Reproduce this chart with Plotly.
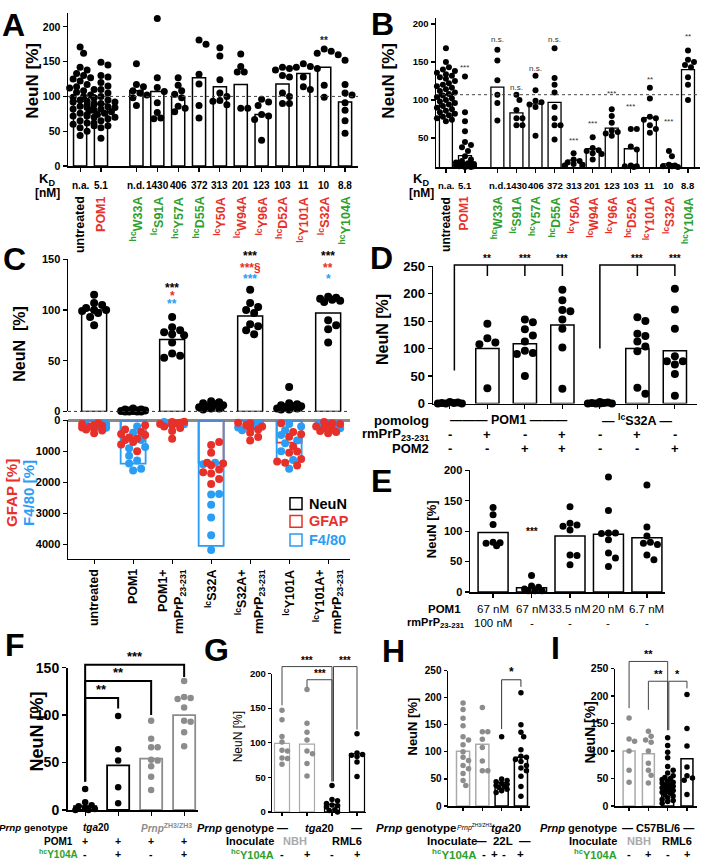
import math
import plotly.graph_objects as go

W, H = 703, 868
FONT = "Liberation Sans, Arial, Helvetica, sans-serif"
BLK = "#000000"
RED = "#e8302a"
BLUE = "#2a9df4"
GREEN = "#2ea02e"
GRAY = "#8c8c8c"
NBH = "#aaaaaa"

# ===================== DATA =====================
# Panels A and B (same categories)
ab_labels = ["untreated", "POM1", "<sup>hc</sup>W33A", "<sup>lc</sup>S91A", "<sup>hc</sup>Y57A",
             "<sup>hc</sup>D55A", "<sup>lc</sup>Y50A", "<sup>lc</sup>W94A", "<sup>lc</sup>Y96A",
             "<sup>hc</sup>D52A", "<sup>lc</sup>Y101A", "<sup>lc</sup>S32A", "<sup>hc</sup>Y104A"]
ab_label_colors = [BLK, RED, GREEN, GREEN, GREEN, GREEN, RED, RED, RED, RED, RED, RED, GREEN]
kd_values = ["n.a.", "5.1", "n.d.", "1430", "406", "372", "313", "201", "123", "103", "11", "10", "8.8"]

a_bar = [93, 89, 108, 107, 100, 127, 114, 117, 74, 118, 133, 142, 92]
a_points = [
    [171, 162, 142, 138, 133, 130, 127, 125, 122, 120, 117, 114, 112, 110, 108, 106, 104, 102, 100, 99,
     98, 96, 95, 93, 92, 90, 88, 86, 84, 82, 80, 78, 76, 74, 72, 70, 68, 65, 62, 60, 58, 55, 50, 44],
    [149, 145, 130, 128, 120, 115, 110, 105, 100, 98, 95, 92, 90, 88, 87, 85, 84, 82, 80, 78, 76, 74,
     72, 70, 68, 65, 62, 58, 55, 40],
    [147, 117, 114, 108, 105, 102, 98, 87],
    [212, 127, 113, 107, 91, 77, 69, 68],
    [127, 116, 108, 103, 98, 86, 83, 78],
    [181, 175, 132, 118, 87, 69],
    [170, 158, 124, 105, 100, 94, 93, 88],
    [161, 143, 135, 135, 83, 83],
    [96, 92, 87, 74, 72, 67, 37],
    [142, 140, 138, 130, 128, 105, 100, 90, 90],
    [147, 143, 142, 140, 128, 114, 110],
    [168, 165, 162, 160, 116, 99],
    [152, 117, 105, 102, 91, 80, 65, 47],
]
a_sig = ["", "", "", "", "", "", "", "", "", "", "", "**", ""]

b_bar = [107, 27, 117, 83, 95, 97, 21, 36, 63, 36, 77, 16, 140]
b_points = [
    [168, 150, 143, 140, 138, 136, 134, 132, 130, 128, 125, 122, 120, 118, 116, 114, 112, 110, 108, 106,
     104, 102, 100, 98, 96, 94, 92, 90, 88, 86, 84, 82, 80, 78, 76, 74, 72],
    [131, 84, 72, 59, 45, 41, 38, 33, 26, 22, 20, 18, 17, 16, 16, 15, 15, 14, 14, 13, 13, 13, 12, 12],
    [166, 152, 126, 107, 96, 73],
    [107, 100, 87, 76, 76, 67, 67],
    [132, 113, 99, 97, 94, 91, 53],
    [168, 129, 120, 110, 91, 76, 67, 67, 48],
    [30, 22, 20, 18, 16, 15, 14],
    [51, 37, 34, 33, 30, 29, 22],
    [88, 79, 70, 60, 58, 56, 53],
    [62, 62, 39, 35, 14, 13, 12, 13],
    [116, 102, 78, 76, 74, 67, 62, 57],
    [33, 26, 15, 14, 13, 13, 12],
    [165, 153, 150, 146, 143, 130, 120, 100],
]
b_sig = ["", "***", "n.s.", "n.s.", "n.s.", "n.s.", "***", "***", "***", "***", "**", "***", "**"]

# Panel C
c_labels = ["untreated", "POM1", "POM1+<br>rmPrP<sub>23-231</sub>", "<sup>lc</sup>S32A",
            "<sup>lc</sup>S32A+<br>rmPrP<sub>23-231</sub>", "<sup>lc</sup>Y101A",
            "<sup>lc</sup>Y101A+<br>rmPrP<sub>23-231</sub>"]
c_neun_bar = [100, 1, 71, 5, 94, 5, 97]
c_neun_points = [
    [115, 107, 105, 102, 100, 100, 99, 97, 93, 85],
    [3, 2, 2, 1, 1, 1, 0.5, 0.5, 0, 0, 0, 0],
    [93, 83, 80, 78, 76, 75, 68, 57, 55, 53],
    [10, 9, 8, 7, 6, 5, 4, 3, 2, 3],
    [120, 107, 103, 100, 97, 86, 84, 80, 76],
    [24, 8, 7, 6, 5, 5, 4, 3, 3, 2, 2],
    [113, 112, 111, 110, 109, 108, 90, 85, 81, 68],
]
c_gfap_bar = [190, 550, 120, 1370, 250, 720, 200]
c_f480_bar = [200, 1400, 100, 4060, 300, 1330, 180]
c_gfap_points = [
    [420, 330, 300, 260, 230, 200, 180, 150, 120, 100],
    [1000, 780, 700, 640, 600, 560, 480, 440, 380, 300, 160],
    [600, 350, 250, 200, 150, 120, 100, 80, 60, 50],
    [2060, 1900, 1720, 1680, 1590, 1450, 1400, 1370, 1050, 800, 700],
    [650, 540, 400, 300, 250, 200, 150, 100, 80],
    [1460, 1370, 1330, 1250, 1050, 1010, 850, 530, 450, 380, 100],
    [420, 380, 350, 300, 250, 200, 150, 120, 100, 60],
]
c_f480_points = [
    [240, 200, 160, 120],
    [1620, 1570, 1400, 1300, 1150, 900, 860, 640, 400, 200],
    [130, 90, 60],
    [4190, 3710, 3140, 2730, 2400, 2380, 1420, 1370],
    [320, 230, 160, 100],
    [1570, 1280, 1000, 740, 650, 480, 320, 200, 120],
    [260, 180, 130],
]
c_sig_black = ["", "", "***", "", "***", "", "***"]
c_sig_red = ["", "", "*", "", "***§", "", "**"]
c_sig_blue = ["", "", "**", "", "***", "", "*"]

# Panel D
d_bar = [1, 100, 109, 143, 1, 100, 96]
d_points = [
    [3, 2, 1, 1, 0, 0, 0],
    [145, 119, 111, 108, 28],
    [153, 148, 135, 124, 113, 96, 92, 90, 50],
    [207, 188, 170, 168, 153, 136, 102, 27],
    [3, 2, 1, 1, 0, 0, 0, 0],
    [157, 150, 127, 123, 113, 104, 95, 29, 18],
    [209, 171, 136, 86, 77, 77, 71, 54, 14],
]
d_rmprp = ["-", "+", "-", "+", "-", "+", "-"]
d_pom2 = ["-", "-", "+", "+", "-", "-", "+"]

# Panel E
e_pom1 = ["67 nM", "67 nM", "33.5 nM", "20 nM", "6.7 nM"]
e_rmprp = ["100 nM", "-", "-", "-", "-"]
e_bar = [98, 7, 92, 95, 89]
e_points = [
    [139, 127, 111, 82, 81, 80, 76],
    [27, 10, 8, 5, 2, 2, 2],
    [140, 113, 110, 108, 102, 61, 60, 45],
    [189, 134, 97, 97, 96, 86, 64, 56, 42],
    [176, 107, 92, 82, 80, 78, 61, 53],
]

# Panel F
f_bar = [4, 47, 54, 100]
f_points = [
    [22, 8, 5, 4, 2, 1, 0, 0],
    [99, 64, 52, 24, 7],
    [94, 75, 66, 66, 53, 52, 46, 35, 21],
    [136, 119, 118, 117, 108, 94, 93, 82, 67],
]
f_pom1 = ["+", "+", "+", "+"]
f_y104a = ["-", "+", "-", "+"]

# Panel G
g_bar = [99, 98, 11, 84]
g_points = [
    [147, 133, 109, 101, 89, 88, 78, 77, 69],
    [177, 128, 115, 104, 88, 84, 70, 52],
    [38, 18, 16, 12, 10, 9, 7, 3, 2, 0],
    [113, 85, 83, 82, 80, 72, 51],
]
g_y104a = ["-", "+", "-", "+"]

# Panel H
h_bar = [101, 114, 43, 90]
h_points = [
    [190, 178, 162, 148, 128, 122, 113, 100, 90, 84, 75, 69, 60, 47, 38],
    [182, 137, 137, 123, 108, 83, 65, 65],
    [128, 50, 47, 45, 42, 40, 38, 36, 34, 31, 28, 25],
    [209, 150, 136, 128, 104, 92, 90, 86, 82, 75, 70, 65, 55, 36, 18],
]
h_y104a = ["-", "+", "-", "+"]

# Panel I
i_bar = [100, 95, 40, 86]
i_points = [
    [160, 122, 118, 100, 65, 43],
    [136, 127, 120, 116, 100, 78, 65, 56, 42],
    [124, 110, 98, 88, 72, 65, 60, 55, 52, 50, 48, 45, 43, 42, 40, 38, 36, 35, 33, 32, 30, 28, 27,
     25, 23, 20, 18, 15, 12, 10, 8, 5],
    [203, 141, 109, 71, 55, 51, 47, 21],
]
i_y104a = ["-", "+", "-", "+"]

# ===================== GEOMETRY =====================
AB_POS = [0, 1] + [2.7 + i for i in range(11)]

AX = {
    1: dict(x=(68, 358), xr=(-0.58, 13.32), y=(161, 5), yr=(0, 220)),
    2: dict(x=(436, 700), xr=(-0.52, 13.33), y=(162, 10), yr=(12, 208)),
    3: dict(x=(68, 350), xr=(-0.67, 6.56), y=(411, 256), yr=(0, 150)),
    4: dict(x=(68, 350), xr=(-0.67, 6.56), y=(561, 420), yr=(4470, 0)),
    5: dict(x=(433, 697), xr=(-0.45, 6.59), y=(403, 263), yr=(0, 250)),
    6: dict(x=(470, 665), xr=(-0.6, 4.47), y=(595, 471), yr=(0, 200)),
    7: dict(x=(68, 198), xr=(-0.52, 3.42), y=(817, 672), yr=(0, 150)),
    8: dict(x=(272, 366), xr=(-0.4, 3.36), y=(819, 678), yr=(0, 200)),
    9: dict(x=(448, 530), xr=(-0.78, 3.47), y=(813, 675), yr=(0, 250)),
    10: dict(x=(615, 697), xr=(-0.73, 3.52), y=(813, 673), yr=(0, 250)),
}


def P(xp):
    return xp / W


def Q(yp):
    return 1 - yp / H


def kx(n):
    a = AX[n]
    return (a['x'][1] - a['x'][0]) / (a['xr'][1] - a['xr'][0])


def ky(n):
    a = AX[n]
    return abs(a['y'][0] - a['y'][1]) / abs(a['yr'][1] - a['yr'][0])


def X(n, v):
    a = AX[n]
    x0, x1 = a['x']
    r0, r1 = a['xr']
    return (x0 + (v - r0) / (r1 - r0) * (x1 - x0)) / W


def Y(n, v):
    a = AX[n]
    yb, yt = a['y']
    r0, r1 = a['yr']
    return 1 - (yb + (v - r0) / (r1 - r0) * (yt - yb)) / H


def swarm(vals, xc, n, d, maxhalf):
    sx, sy = kx(n), ky(n)
    step = d * 0.5
    cands = [0.0]
    k = 1
    while k * step <= maxhalf + 1e-6:
        cands += [k * step, -k * step]
        k += 1
    placed = []
    out = [0.0] * len(vals)
    for i in sorted(range(len(vals)), key=lambda j: -vals[j]):
        yv = vals[i] * sy
        best, bestd = 0.0, -1.0
        for c in cands:
            md = min((math.hypot(c - a, yv - b) for a, b in placed), default=1e9)
            if md >= d * 0.92:
                best = c
                break
            if md > bestd:
                best, bestd = c, md
        placed.append((best, yv))
        out[i] = xc + best / sx
    return out


def xref(n):
    return 'x' if n == 1 else f'x{n}'


def yref(n):
    return 'y' if n == 1 else f'y{n}'


fig = go.Figure()


def add_bars(n, xs, ys, width, color, lw=1.5):
    fig.add_trace(go.Bar(x=xs, y=ys, width=width,
                         marker=dict(color='rgba(255,255,255,0)', line=dict(color=color, width=lw)),
                         xaxis=xref(n), yaxis=yref(n), showlegend=False, hoverinfo='skip'))


def add_points(n, centers, groups, size, colors, maxhalf):
    for i, (xc, vals) in enumerate(zip(centers, groups)):
        col = colors[i] if isinstance(colors, list) else colors
        xs = swarm(vals, xc, n, size, maxhalf)
        fig.add_trace(go.Scatter(x=xs, y=vals, mode='markers', cliponaxis=False,
                                 marker=dict(size=size, color=col, line=dict(width=0)),
                                 xaxis=xref(n), yaxis=yref(n), showlegend=False, hoverinfo='skip'))


ANN = []
SHP = []


def txt(text, x, y, size=12, color=BLK, bold=True, xanchor='center', yanchor='middle', angle=0,
        xr='paper', yr='paper', align='center'):
    if bold:
        text = f'<b>{text}</b>'
    ANN.append(dict(text=text, x=x, y=y, xref=xr, yref=yr, showarrow=False,
                    font=dict(family=FONT, size=size, color=color), xanchor=xanchor, yanchor=yanchor,
                    textangle=angle, align=align, borderpad=0))


def hline(x0, x1, y, color=BLK, width=1, dash='solid'):
    SHP.append(dict(type='line', xref='paper', yref='paper', x0=x0, x1=x1, y0=y, y1=y,
                    line=dict(color=color, width=width, dash=dash)))


def bracket(n, xa, xb, h, ya, yb, color=BLK, width=1.5, extra=()):
    path = (f"M {X(n, xa)},{Y(n, ya)} L {X(n, xa)},{Y(n, h)} L {X(n, xb)},{Y(n, h)} "
            f"L {X(n, xb)},{Y(n, yb)}")
    for (xe, ye) in extra:
        path += f" M {X(n, xe)},{Y(n, h)} L {X(n, xe)},{Y(n, ye)}"
    SHP.append(dict(type='path', xref='paper', yref='paper', path=path,
                    line=dict(color=color, width=width)))


LAYOUT = {}


def axes(n, xticks, yticks, tsize, tbold=True, lw=1.5, xline=True, yzero=False, ticklen=4):
    a = AX[n]
    xa = dict(domain=[P(a['x'][0]), P(a['x'][1])], range=list(a['xr']), anchor=yref(n),
              showgrid=False, zeroline=False, showline=xline, linecolor=BLK, linewidth=lw,
              ticks='outside' if xline else '', ticklen=ticklen, tickwidth=1.2, tickcolor=BLK,
              tickvals=xticks, showticklabels=False, fixedrange=True)
    ya = dict(domain=[Q(a['y'][0]), Q(a['y'][1])], range=list(a['yr']), anchor=xref(n),
              showgrid=False, zeroline=yzero, zerolinecolor='#8a8a8a', zerolinewidth=2.5,
              showline=True, linecolor=BLK, linewidth=lw,
              ticks='outside', ticklen=ticklen, tickwidth=1.2, tickcolor=BLK, tickvals=yticks,
              tickfont=dict(family=FONT, size=tsize, color=BLK, weight='bold' if tbold else 'normal'),
              fixedrange=True)
    LAYOUT['xaxis' if n == 1 else f'xaxis{n}'] = xa
    LAYOUT['yaxis' if n == 1 else f'yaxis{n}'] = ya


# ===================== PANEL A =====================
axes(1, AB_POS, [0, 50, 100, 150, 200], 10.5)
hline(P(68), P(358), Y(1, 100), color='#444', width=1, dash='dot')
add_bars(1, AB_POS, a_bar, 0.63, BLK, 1.5)
add_points(1, AB_POS, a_points, 7, BLK, 15)
for i, s in enumerate(a_sig):
    if s:
        txt(s, X(1, AB_POS[i]), Y(1, 180), size=10, color='#222')
txt("NeuN [%]", P(33), Q(74), size=17, angle=-90)
txt("A", P(13), Q(17), size=32)

# ===================== PANEL B =====================
axes(2, AB_POS, [50, 100, 150, 200], 9.5)
hline(P(436), P(700), Y(2, 107), color='#444', width=1, dash='dot')
add_bars(2, AB_POS, b_bar, 0.68, BLK, 1.3)
add_points(2, AB_POS, b_points, 6, BLK, 10)
B_SIG_Y = [0, 143, 180, 117, 142, 180, 47, 69, 108, 92, 127, 72, 183]
for i, s in enumerate(b_sig):
    if s:
        txt(s, X(2, AB_POS[i]), Y(2, B_SIG_Y[i]), size=8, color='#333', bold=False)
txt("NeuN [%]", P(389), Q(74), size=17, angle=-90)
txt("B", P(382), Q(16), size=32)

# KD rows and rotated labels for A and B
for n, kdx, lsize in [(1, 47, 12.5), (2, 421, 12)]:
    txt("K<sub>D</sub>", P(kdx), Q(175), size=13)
    txt("[nM]", P(kdx), Q(188), size=12)
    for i, kd in enumerate(kd_values):
        txt(kd, X(n, AB_POS[i]), Q(181), size=10 if n == 1 else 9.5)
    for i, lab in enumerate(ab_labels):
        txt(lab, X(n, AB_POS[i]), Q(191), size=lsize, color=ab_label_colors[i], angle=-90,
            yanchor='top')

# ===================== PANEL C =====================
C_POS = list(range(7))
axes(3, [], [0, 50, 100, 150], 11, xline=False)
axes(4, C_POS, [0, 1000, 2000, 3000, 4000], 11, yzero=True)
hline(P(68), P(350), Y(3, 0), color='#333', width=1, dash='dot')
add_bars(3, C_POS, c_neun_bar, 0.64, BLK, 1.5)
add_points(3, C_POS, c_neun_points, 8, BLK, 14)
add_bars(4, C_POS, c_gfap_bar, 0.64, RED, 1.8)
add_bars(4, C_POS, c_f480_bar, 0.64, BLUE, 1.8)
for i in C_POS:
    g, f = c_gfap_points[i], c_f480_points[i]
    xs = swarm(f + g, i, 4, 8, 13)
    fig.add_trace(go.Scatter(x=xs[:len(f)], y=f, mode='markers', cliponaxis=False,
                             marker=dict(size=8, color=BLUE), xaxis='x4', yaxis='y4',
                             showlegend=False, hoverinfo='skip'))
    fig.add_trace(go.Scatter(x=xs[len(f):], y=g, mode='markers', cliponaxis=False,
                             marker=dict(size=8, color=RED), xaxis='x4', yaxis='y4',
                             showlegend=False, hoverinfo='skip'))
C_SIG_Y = {2: (122, 114, 106), 4: (153, 141, 131), 6: (153, 141, 131)}
for i in C_POS:
    if c_sig_black[i]:
        yb, yr_, yl = C_SIG_Y[i]
        txt(c_sig_black[i], X(3, i), Y(3, yb), size=12, color=BLK)
        txt(c_sig_red[i], X(3, i), Y(3, yr_), size=12, color=RED)
        txt(c_sig_blue[i], X(3, i), Y(3, yl), size=12, color=BLUE)
for i, lab in enumerate(c_labels):
    txt(lab, X(4, i), Q(571), size=12.5, angle=-90, yanchor='top', align='right')
txt("NeuN  [%]", P(20), Q(342), size=16, angle=-90)
txt("GFAP [%]", P(12), Q(494), size=15, color=RED, angle=-90)
txt("F4/80 [%]", P(29), Q(494), size=15, color=BLUE, angle=-90)
txt("C", P(14), Q(256), size=32)
for yc, name, col in [(505, "NeuN", BLK), (523, "GFAP", RED), (542, "F4/80", BLUE)]:
    SHP.append(dict(type='rect', xref='paper', yref='paper', x0=P(290), x1=P(302),
                    y0=Q(yc - 6), y1=Q(yc + 6), line=dict(color=col, width=1.5)))
    txt(name, P(308), Q(yc), size=14.5, color=col, xanchor='left')

# ===================== PANEL D =====================
D_POS = list(range(7))
axes(5, D_POS, [0, 50, 100, 150, 200, 250], 13)
add_bars(5, D_POS, d_bar, 0.62, BLK, 1.5)
add_points(5, D_POS, d_points, 8, BLK, 12)
bracket(5, 0.12, 3, 252, 60, 232, extra=[(1, 232), (2, 232)])
bracket(5, 4, 6, 252, 100, 232, extra=[(5, 232)])
for gx, s in [(1, "**"), (2, "***"), (3, "***"), (5, "***"), (6, "***")]:
    txt(s, X(5, gx), Y(5, 252), size=10, yanchor='bottom')
txt("NeuN [%]", P(383), Q(328), size=16, angle=-90)
txt("D", P(381), Q(255), size=32)
txt("pomolog", P(430), Q(420), size=13, xanchor='right')
txt("rmPrP<sub>23-231</sub>", P(430), Q(435), size=13, xanchor='right')
txt("POM2", P(430), Q(449), size=13, xanchor='right')
txt("——— POM1 ———", (X(5, 0) + X(5, 3)) / 2 + 0.004, Q(420), size=12.5)
txt("— <sup>lc</sup>S32A —", X(5, 5), Q(420), size=12.5)
for i in D_POS:
    txt(d_rmprp[i], X(5, i), Q(435), size=13)
    txt(d_pom2[i], X(5, i), Q(449), size=13)

# ===================== PANEL E =====================
E_POS = list(range(5))
axes(6, E_POS, [0, 50, 100, 150, 200], 11)
add_bars(6, E_POS, e_bar, 0.78, BLK, 1.5)
add_points(6, E_POS, e_points, 7, BLK, 12)
txt("***", X(6, 1), Y(6, 100), size=10)
txt("NeuN [%]", P(431), Q(531), size=13, angle=-90)
txt("E", P(381), Q(482), size=32)
txt("POM1", P(462), Q(612), size=11.5, xanchor='right')
txt("rmPrP<sub>23-231</sub>", P(466), Q(627), size=11, xanchor='right')
for i in E_POS:
    txt(e_pom1[i], X(6, i), Q(612), size=11.5, bold=False)
    txt(e_rmprp[i], X(6, i), Q(627), size=11.5, bold=False)

# ===================== PANEL F =====================
F_POS = list(range(4))
axes(7, F_POS, [0, 50, 100, 150], 14, lw=2)
add_bars(7, F_POS, f_bar, 0.67, [BLK, BLK, GRAY, GRAY], 1.8)
add_points(7, F_POS, f_points, 6.5, [BLK, BLK, GRAY, GRAY], 10)
bracket(7, 0, 1, 118, 30, 107, width=2)
bracket(7, 0, 2, 136, 30, 100, width=2)
bracket(7, 0, 3, 153, 30, 140, width=2)
txt("**", X(7, 0.5), Y(7, 118), size=13, yanchor='bottom')
txt("**", X(7, 1.0), Y(7, 136), size=13, yanchor='bottom')
txt("***", X(7, 1.5), Y(7, 153), size=13, yanchor='bottom')
txt("NeuN [%]", P(37), Q(737), size=18, angle=-90)
txt("F", P(15), Q(649), size=32)
txt("<i>Prnp</i> genotype", P(69), Q(835), size=9.8, xanchor='right')
txt("<i>tga</i>20", P(96), Q(835), size=10)
txt("<i>Prnp</i><sup>ZH3/ZH3</sup>", P(166), Q(835), size=10, color=GRAY)
txt("POM1", P(74), Q(849), size=10, xanchor='right')
txt("<sup>hc</sup>Y104A", P(79), Q(862), size=10, color=GREEN, xanchor='right')
for i in F_POS:
    txt(f_pom1[i], X(7, i), Q(849), size=10.5)
    txt(f_y104a[i], X(7, i), Q(862), size=10.5)

# ===================== PANEL G =====================
G_POS = list(range(4))
axes(8, G_POS, [0, 50, 100, 150, 200], 9.5, lw=1.2, ticklen=3)
add_bars(8, G_POS, g_bar, 0.6, [NBH, NBH, BLK, BLK], 1.2)
add_points(8, G_POS, g_points, 5.5, [GRAY, GRAY, BLK, BLK], 7)
bracket(8, 0, 2, 210, 154, 44, color='#444', width=1)
bracket(8, 1, 2, 191, 180, 44, color='#444', width=1)
bracket(8, 2.06, 3, 210, 44, 119, color='#444', width=1)
txt("***", X(8, 1.0), Y(8, 210), size=10, yanchor='bottom')
txt("***", X(8, 1.5), Y(8, 191), size=10, yanchor='bottom')
txt("***", X(8, 2.5), Y(8, 210), size=10, yanchor='bottom')
txt("NeuN [%]", P(238), Q(743), size=12, angle=-90, bold=False)
txt("G", P(216), Q(654), size=32)
txt("<i>Prnp</i> genotype", P(275), Q(835), size=11, xanchor='right')
txt("—", X(8, 0), Q(835), size=11)
txt("<i>tga</i>20", X(8, 1.5), Q(835), size=11)
txt("—", X(8, 3), Q(835), size=11)
txt("Inoculate", P(275), Q(849), size=11, xanchor='right')
txt("NBH", X(8, 0.5), Q(849), size=11, color=NBH)
txt("RML6", X(8, 2.6), Q(849), size=11)
txt("<sup>hc</sup>Y104A", P(275), Q(862), size=11, color=GREEN, xanchor='right')
for i in G_POS:
    txt(g_y104a[i], X(8, i), Q(862), size=11)

# ===================== PANEL H =====================
H_POS = list(range(4))
axes(9, H_POS, [0, 50, 100, 150, 200, 250], 10, lw=1.5, ticklen=3)
add_bars(9, H_POS, h_bar, 0.68, [NBH, NBH, BLK, BLK], 1.5)
add_points(9, H_POS, h_points, 5.5, [GRAY, GRAY, BLK, BLK], 7)
bracket(9, 2, 3, 233, 142, 220, color='#333', width=1)
txt("*", X(9, 2.5), Y(9, 233), size=12, yanchor='bottom')
txt("NeuN [%]", P(413), Q(732), size=13, angle=-90)
txt("H", P(393), Q(655), size=32)
txt("<i>Prnp</i> genotype", P(458), Q(835), size=11.5, xanchor='right')
txt("<i>Prnp</i><sup>ZH3/ZH3</sup>", P(474), Q(835), size=7, bold=False)
txt("<i>tga</i>20", P(506), Q(835), size=11.5)
txt("Inoculate", P(478), Q(849), size=11.5, xanchor='right')
txt("—  22L  —", P(503), Q(849), size=11.5)
txt("<sup>hc</sup>Y104A", P(478), Q(862), size=11.5, color=GREEN, xanchor='right')
for xp, s in zip([484, 494, 504, 520], h_y104a):
    txt(s, P(xp), Q(862), size=11.5)

# ===================== PANEL I =====================
I_POS = list(range(4))
axes(10, I_POS, [0, 50, 100, 150, 200, 250], 10.5, lw=1.5, ticklen=3)
add_bars(10, I_POS, i_bar, 0.62, [NBH, NBH, BLK, BLK], 1.5)
add_points(10, I_POS, i_points, 5.5, [GRAY, GRAY, BLK, BLK], 7)
bracket(10, 0, 2, 263, 178, 138, color='#444', width=1)
bracket(10, 1, 2, 227, 175, 138, color='#444', width=1)
bracket(10, 2.06, 3, 227, 138, 214, color='#444', width=1)
txt("**", X(10, 1.0), Y(10, 263), size=11, yanchor='bottom')
txt("**", X(10, 1.5), Y(10, 227), size=11, yanchor='bottom')
txt("*", X(10, 2.5), Y(10, 227), size=11, yanchor='bottom')
txt("NeuN [%]", P(590), Q(738), size=14, angle=-90)
txt("I", P(555), Q(652), size=32)
txt("<i>Prnp</i> genotype", P(618), Q(835), size=11, xanchor='right')
txt("— C57BL/6 —", X(10, 1.5), Q(835), size=11)
txt("Inoculate", P(618), Q(849), size=11, xanchor='right')
txt("NBH", X(10, 0.5), Q(849), size=11, color=NBH)
txt("RML6", X(10, 2.5), Q(849), size=11)
txt("<sup>hc</sup>Y104A", P(618), Q(862), size=11, color=GREEN, xanchor='right')
for i in I_POS:
    txt(i_y104a[i], X(10, i), Q(862), size=11)

fig.update_layout(
    width=W, height=H, margin=dict(l=0, r=0, t=0, b=0),
    paper_bgcolor='white', plot_bgcolor='rgba(0,0,0,0)',
    barmode='overlay', showlegend=False,
    font=dict(family=FONT, color=BLK),
    annotations=ANN, shapes=SHP, **LAYOUT,
)
fig.write_html("out.html", config={'displayModeBar': False, 'staticPlot': True},
               post_script="document.body.style.margin='0px';document.body.style.overflow='hidden';")
